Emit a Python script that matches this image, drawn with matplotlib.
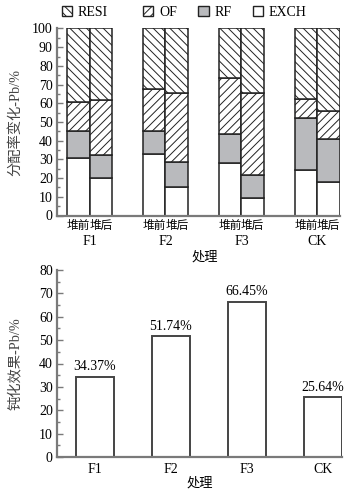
import matplotlib
matplotlib.use("Agg")
import matplotlib.pyplot as plt
import matplotlib.transforms as mtransforms
from matplotlib.patches import Patch
import numpy as np

plt.rcParams['font.family'] = ['Liberation Serif', 'Noto Sans CJK SC']
plt.rcParams['hatch.linewidth'] = 0.7
plt.rcParams['hatch.color'] = '#222222'

# ---------- data ----------
groups = ['F1', 'F2', 'F3', 'CK']
stages = ['堆前', '堆后']
fractions = ['EXCH', 'RF', 'OF', 'RESI']
# percentages (before, after) per group
exch_before = [30.9, 32.9, 28.2, 24.1]
exch_after = [20.2, 15.5, 9.1, 17.9]
rf_before = [14.1, 12.1, 15.6, 28.0]
rf_after = [12.3, 13.3, 12.7, 23.0]
of_before = [15.5, 22.9, 29.8, 10.2]
of_after = [29.1, 36.9, 43.9, 15.1]
resi_before = [39.5, 32.1, 26.4, 37.7]
resi_after = [38.4, 34.3, 34.3, 44.0]

passivation = [34.37, 51.74, 66.45, 25.64]
passivation_labels = ['34.37%', '51.74%', '66.45%', '25.64%']

W, H = 364, 492
fig = plt.figure(figsize=(W / 100, H / 100), dpi=100)

spine_c = '#7a7a7a'
edge_c = '#222222'
fs = 10
cjk_fs = 9.5

def style_axes(ax):
    for s in ['top', 'right']:
        ax.spines[s].set_visible(False)
    for s in ['left', 'bottom']:
        ax.spines[s].set_color(spine_c)
        ax.spines[s].set_linewidth(1.6)
    ax.tick_params(axis='y', which='major', direction='in', length=4, width=1.0,
                   color=spine_c, labelsize=fs, pad=3)
    ax.tick_params(axis='y', which='minor', direction='in', length=2.5, width=1.0,
                   color=spine_c)

# ---------- top chart ----------
ax1 = fig.add_axes([57 / W, (H - 215.5) / H, (340 - 57) / W, (215.5 - 28.5) / H])
style_axes(ax1)
spacing = 3.34
centers = np.arange(len(groups)) * spacing
x_before = centers - 0.5
x_after = centers + 0.5

styles = {
    'EXCH': dict(facecolor='white', hatch=None),
    'RF': dict(facecolor='#b9babd', hatch=None),
    'OF': dict(facecolor='white', hatch='////'),
    'RESI': dict(facecolor='white', hatch='\\\\\\\\'),
}
data_b = {'EXCH': exch_before, 'RF': rf_before, 'OF': of_before, 'RESI': resi_before}
data_a = {'EXCH': exch_after, 'RF': rf_after, 'OF': of_after, 'RESI': resi_after}

for xs, d in [(x_before, data_b), (x_after, data_a)]:
    bottom = np.zeros(len(groups))
    for f in fractions:
        vals = np.array(d[f])
        ax1.bar(xs, vals, width=1.0, bottom=bottom, facecolor=styles[f]['facecolor'],
                hatch=styles[f]['hatch'], edgecolor=edge_c, linewidth=1.1)
        bottom += vals

ax1.set_ylim(0, 100)
ax1.set_xlim(-1.43, centers[-1] + 1.0)
ax1.set_yticks(np.arange(0, 101, 10))
ax1.set_yticks(np.arange(5, 100, 10), minor=True)
xt = np.ravel(np.column_stack([x_before, x_after]))
ax1.set_xticks(xt)
ax1.set_xticklabels(stages * len(groups), fontsize=8.4)
ax1.tick_params(axis='x', length=0, pad=3)
ax1.set_ylabel('分配率变化-Pb/%', fontsize=cjk_fs + 0.8, color='#444444')
ax1.yaxis.set_label_coords(-35 / (340 - 57), 0.5)

trans1 = mtransforms.blended_transform_factory(ax1.transData, fig.transFigure)
for c, g in zip(centers, groups):
    ax1.text(c, (H - 241.7) / H, g, transform=trans1, ha='center', va='center', fontsize=fs)
fig.text(205 / W, (H - 257) / H, '处理', ha='center', va='center', fontsize=cjk_fs)

handles = {f: Patch(facecolor=styles[f]['facecolor'], hatch=styles[f]['hatch'],
                    edgecolor=edge_c, linewidth=1.0) for f in fractions}
leg_kw = dict(ncol=3, loc='center left', frameon=False, fontsize=fs,
              handlelength=0.75, handleheight=0.75, handletextpad=0.4, columnspacing=1.55,
              borderpad=0, borderaxespad=0)
fig.legend([handles['RESI']], ['RESI'], bbox_to_anchor=(62 / W, (H - 12.5) / H), **leg_kw)
fig.legend([handles[f] for f in ['OF', 'RF', 'EXCH']], ['OF', 'RF', 'EXCH'],
           bbox_to_anchor=(143 / W, (H - 12.5) / H), **leg_kw)

# ---------- bottom chart ----------
ax2 = fig.add_axes([57 / W, (H - 457) / H, (342 - 57) / W, (457 - 270) / H])
style_axes(ax2)
xpos = np.arange(len(groups))
ax2.bar(xpos, passivation, width=0.5, facecolor='white', edgecolor='#444444', linewidth=1.4)
for x, v, lab in zip(xpos, passivation, passivation_labels):
    ax2.annotate(lab, (x, v), xytext=(0, 2.5), textcoords='offset points',
                 ha='center', va='bottom', fontsize=fs)
ax2.set_ylim(0, 80)
ax2.set_xlim(-0.5, 3.25)
ax2.set_yticks(np.arange(0, 81, 10))
ax2.set_yticks(np.arange(5, 80, 10), minor=True)
ax2.set_xticks(xpos)
ax2.set_xticklabels(groups, fontsize=fs)
ax2.tick_params(axis='x', length=0, pad=4)
ax2.set_xlabel('处理', fontsize=cjk_fs, labelpad=1)
ax2.set_ylabel('钝化效果-Pb/%', fontsize=cjk_fs + 0.8, color='#444444')
ax2.yaxis.set_label_coords(-35 / (342 - 57), 0.5)

fig.savefig('out.png', dpi=100)
